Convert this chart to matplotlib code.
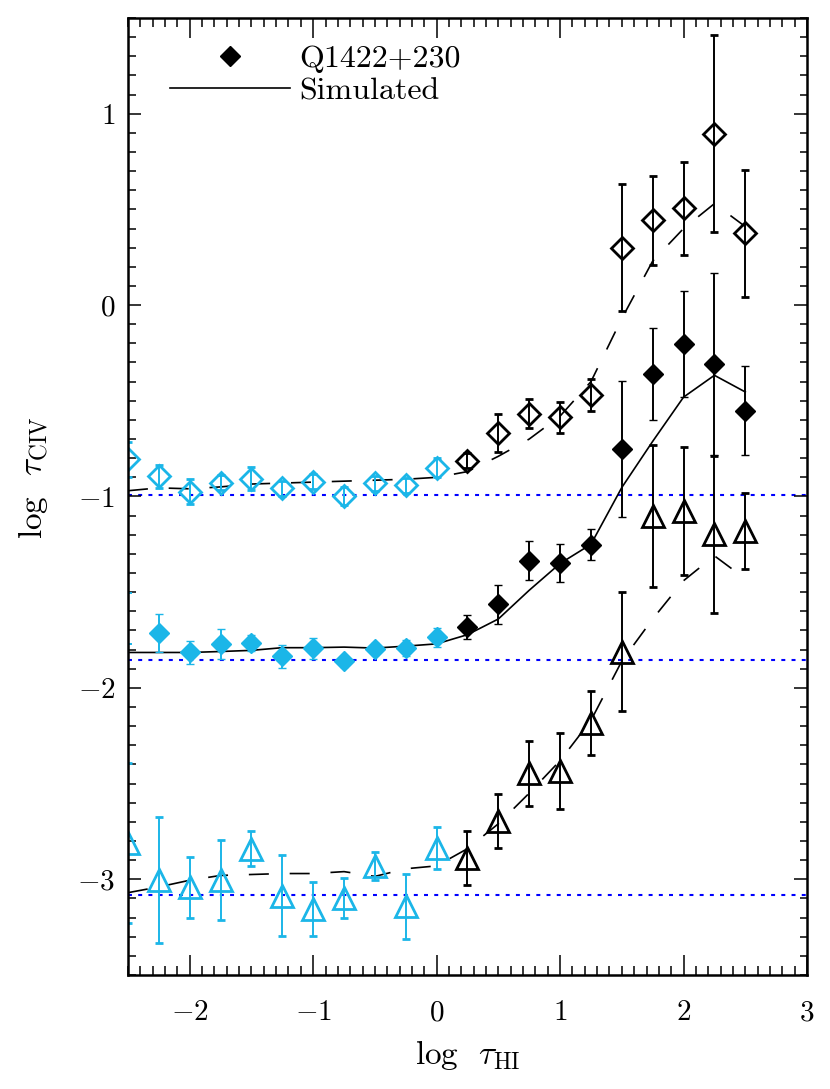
import numpy as np
import matplotlib
matplotlib.use('Agg')
import matplotlib.pyplot as plt
from matplotlib.lines import Line2D
from matplotlib.ticker import MultipleLocator

plt.rcParams['font.family'] = 'cmr10'
plt.rcParams['mathtext.fontset'] = 'cm'
plt.rcParams['axes.formatter.use_mathtext'] = True

# log tau_HI bins
x = np.array([-2.5, -2.25, -2.0, -1.75, -1.5, -1.25, -1.0, -0.75, -0.5, -0.25, 0.0,
              0.25, 0.5, 0.75, 1.0, 1.25, 1.5, 1.75, 2.0, 2.25, 2.5])

# observed, open diamonds (upper set)
open_y = np.array([-0.806, -0.894, -0.975, -0.928, -0.907, -0.958, -0.923, -0.998, -0.932, -0.942, -0.85,
                   -0.813, -0.668, -0.567, -0.587, -0.471, 0.300, 0.442, 0.505, 0.895, 0.374])
open_err = np.array([0.09, 0.06, 0.065, 0.04, 0.06, 0.04, 0.04, 0.045, 0.04, 0.04, 0.05,
                     0.04, 0.10, 0.075, 0.08, 0.085, 0.333, 0.234, 0.245, 0.515, 0.33])

# observed, filled diamonds (Q1422+230)
fill_y = np.array([-1.637, -1.714, -1.815, -1.771, -1.765, -1.836, -1.792, -1.862, -1.797, -1.792, -1.735,
                   -1.682, -1.564, -1.335, -1.346, -1.251, -0.750, -0.358, -0.202, -0.308, -0.552])
fill_err = np.array([0.133, 0.10, 0.06, 0.08, 0.04, 0.06, 0.055, 0.03, 0.03, 0.04, 0.05,
                     0.065, 0.10, 0.10, 0.10, 0.08, 0.355, 0.24, 0.277, 0.475, 0.232])

# observed, triangles (lower set)
tri_y = np.array([-2.81, -3.005, -3.042, -3.005, -2.84, -3.085, -3.155, -3.098, -2.93, -3.14, -2.838,
                  -2.89, -2.697, -2.447, -2.435, -2.182, -1.81, -1.102, -1.074, -1.197, -1.18])
tri_err = np.array([0.42, 0.33, 0.16, 0.21, 0.09, 0.21, 0.14, 0.105, 0.075, 0.17, 0.11,
                    0.14, 0.14, 0.168, 0.20, 0.168, 0.31, 0.37, 0.334, 0.41, 0.20])

# simulated curves
sim_top = np.array([-0.97, -0.955, -0.96, -0.95, -0.935, -0.93, -0.925, -0.92, -0.915, -0.91, -0.90,
                    -0.87, -0.79, -0.70, -0.58, -0.40, -0.07, 0.23, 0.40, 0.53, 0.41])
sim_mid = np.array([-1.815, -1.815, -1.815, -1.81, -1.804, -1.79, -1.79, -1.787, -1.792, -1.782, -1.77,
                    -1.722, -1.64, -1.49, -1.35, -1.25, -0.953, -0.712, -0.481, -0.367, -0.454])
sim_bot = np.array([-3.07, -3.04, -3.005, -2.98, -2.975, -2.97, -2.97, -2.96, -2.985, -2.945, -2.93,
                    -2.84, -2.71, -2.55, -2.38, -2.17, -1.86, -1.64, -1.44, -1.31, -1.43])

# noise levels
noise = [-0.99, -1.853, -3.084]

cyan = '#1bb6e8'
low = x <= 0.0
high = x > 0.0

fig = plt.figure(figsize=(8.3, 10.89), dpi=100)
ax = fig.add_axes([0.1542, 0.1047, 0.8181, 0.8788])

for lev in noise:
    ax.axhline(lev, color='blue', lw=1.5, ls=(0, (1.9, 3.0)), zorder=1)

ax.plot(x, sim_top, color='k', lw=1.2, ls=(0, (12, 12.5)), zorder=2)
ax.plot(x, sim_mid, color='k', lw=1.2, zorder=2)
ax.plot(x, sim_bot, color='k', lw=1.2, ls=(0, (12, 12.5)), zorder=2)

eb = dict(ls='none', capsize=3.2, elinewidth=1.4, capthick=1.4, zorder=3)

for m, c in [(low, cyan), (high, 'k')]:
    ax.errorbar(x[m], open_y[m], yerr=open_err[m], fmt='D', ms=11.5, mfc='none',
                mec=c, mew=2.0, ecolor=c, **eb)
    ax.errorbar(x[m], tri_y[m], yerr=tri_err[m], fmt='^', ms=16, mfc='none',
                mec=c, mew=2.0, ecolor=c, **eb)

# filled diamonds (first bin has error bar only)
mf = low.copy()
mf[0] = False
ax.errorbar(x[:1], fill_y[:1], yerr=fill_err[:1], fmt='none', ecolor=cyan, **eb)
ax.errorbar(x[mf], fill_y[mf], yerr=fill_err[mf], fmt='D', ms=10.5, mfc=cyan,
            mec=cyan, mew=1.0, ecolor=cyan, **eb)
ax.errorbar(x[high], fill_y[high], yerr=fill_err[high], fmt='D', ms=10.5, mfc='k',
            mec='k', mew=1.0, ecolor='k', **eb)

ax.set_xlim(-2.5, 3.0)
ax.set_ylim(-3.5, 1.5)
ax.xaxis.set_major_locator(MultipleLocator(1))
ax.xaxis.set_minor_locator(MultipleLocator(0.1))
ax.yaxis.set_major_locator(MultipleLocator(1))
ax.yaxis.set_minor_locator(MultipleLocator(0.1))

ax.tick_params(axis='both', which='both', direction='in', top=True, right=True, width=1.1)
ax.tick_params(axis='x', which='major', length=14.4, pad=18, labelsize=21)
ax.tick_params(axis='x', which='minor', length=6.8)
ax.tick_params(axis='y', which='major', length=9.6, pad=9, labelsize=21)
ax.tick_params(axis='y', which='minor', length=5.4)
for s in ax.spines.values():
    s.set_linewidth(1.8)
    s.set_zorder(5)

ax.set_xlabel(r'$\log\;\;\tau_{\rm HI}$', fontsize=24)
ax.set_ylabel(r'$\log\;\;\tau_{\rm CIV}$', fontsize=24)
ax.xaxis.set_label_coords(0.5, -0.066)
ax.yaxis.set_label_coords(-0.115, 0.52)

handles = [Line2D([], [], marker='D', color='k', ls='none', ms=10.5),
           Line2D([], [], color='k', lw=1.2)]
ax.legend(handles, ['Q1422+230', 'Simulated'], loc='upper left',
          bbox_to_anchor=(0.062, 0.972), frameon=False, fontsize=23,
          handlelength=3.75, handletextpad=0.3, labelspacing=0.12,
          borderpad=0, borderaxespad=0)

fig.savefig('out.png', dpi=100)
